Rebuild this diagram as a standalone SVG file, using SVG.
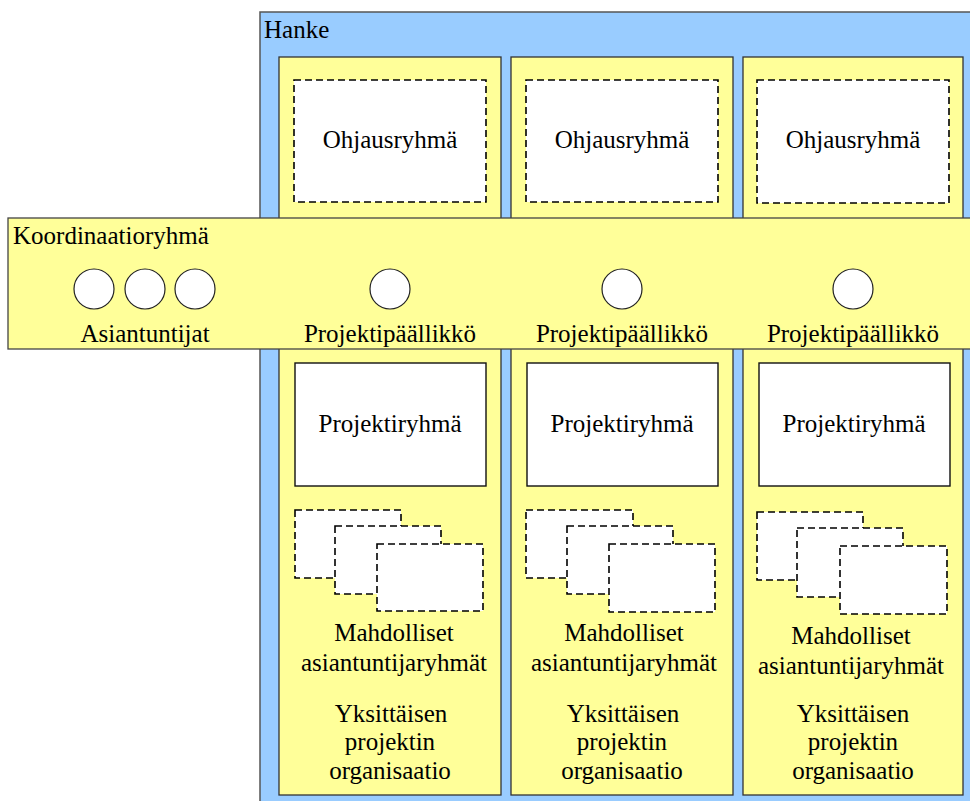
<svg xmlns="http://www.w3.org/2000/svg" width="970" height="801" viewBox="0 0 970 801">
  <style>
    .hanke { fill: #99CCFF; stroke: #555; stroke-width: 1.5; }
    .col { fill: #FFFF99; stroke: #333; stroke-width: 1.3; }
    .band { fill: #FFFF99; stroke: #444; stroke-width: 1.3; }
    .dash { fill: #fff; stroke: #000; stroke-width: 1.6; stroke-dasharray: 7 4; }
    .solid { fill: #fff; stroke: #111; stroke-width: 1.4; }
    .person { fill: #fff; stroke: #222; stroke-width: 1.2; }
    text { font-family: "Liberation Serif", "Times New Roman", serif; font-size: 25px; fill: #000; }
    .c { text-anchor: middle; }
  </style>

  <!-- Hanke container -->
  <g id="hanke">
    <rect class="hanke" x="260" y="12" width="730" height="800"/>
    <text x="264" y="38">Hanke</text>
  </g>

  <!-- project columns -->
  <g id="project-1">
    <rect class="col" x="279" y="57" width="222" height="738"/>
    <g id="ohjausryhma-1">
      <rect class="dash" x="294" y="80" width="192" height="122"/>
      <text class="c" x="390" y="148">Ohjausryhmä</text>
    </g>
  </g>
  <g id="project-2">
    <rect class="col" x="511" y="57" width="222" height="738"/>
    <g id="ohjausryhma-2">
      <rect class="dash" x="526" y="80" width="192" height="122"/>
      <text class="c" x="622" y="148">Ohjausryhmä</text>
    </g>
  </g>
  <g id="project-3">
    <rect class="col" x="743" y="57" width="220" height="738"/>
    <g id="ohjausryhma-3">
      <rect class="dash" x="757" y="80" width="192" height="123"/>
      <text class="c" x="853" y="148">Ohjausryhmä</text>
    </g>
  </g>

  <!-- coordination group band -->
  <g id="koordinaatioryhma">
    <rect class="band" x="8" y="218" width="980" height="131"/>
    <text x="13" y="244">Koordinaatioryhmä</text>
    <g id="asiantuntijat">
      <circle class="person" cx="94" cy="289" r="20"/>
      <circle class="person" cx="145" cy="289" r="20"/>
      <circle class="person" cx="195" cy="289" r="20"/>
      <text class="c" x="145" y="342">Asiantuntijat</text>
    </g>
    <g id="projektipaallikko-1">
      <circle class="person" cx="390" cy="289" r="20"/>
      <text class="c" x="390" y="342">Projektipäällikkö</text>
    </g>
    <g id="projektipaallikko-2">
      <circle class="person" cx="622" cy="289" r="20"/>
      <text class="c" x="622" y="342">Projektipäällikkö</text>
    </g>
    <g id="projektipaallikko-3">
      <circle class="person" cx="853" cy="289" r="20"/>
      <text class="c" x="853" y="342">Projektipäällikkö</text>
    </g>
  </g>

  <!-- lower part of each project column -->
  <g id="projektiryhma-1">
    <rect class="solid" x="295" y="363" width="191" height="123"/>
    <text class="c" x="390" y="432">Projektiryhmä</text>
  </g>
  <g id="projektiryhma-2">
    <rect class="solid" x="527" y="363" width="191" height="123"/>
    <text class="c" x="622" y="432">Projektiryhmä</text>
  </g>
  <g id="projektiryhma-3">
    <rect class="solid" x="759" y="363" width="191" height="123"/>
    <text class="c" x="854" y="432">Projektiryhmä</text>
  </g>

  <g id="asiantuntijaryhmat-1">
    <rect class="dash" x="295" y="510" width="106" height="68"/>
    <rect class="dash" x="335" y="526" width="106" height="68"/>
    <rect class="dash" x="377" y="544" width="106" height="67"/>
    <text class="c" x="394" y="641">Mahdolliset</text>
    <text class="c" x="394" y="671">asiantuntijaryhmät</text>
  </g>
  <g id="asiantuntijaryhmat-2">
    <rect class="dash" x="526" y="510" width="107" height="68"/>
    <rect class="dash" x="567" y="526" width="106" height="68"/>
    <rect class="dash" x="609" y="544" width="106" height="68"/>
    <text class="c" x="624" y="641">Mahdolliset</text>
    <text class="c" x="624" y="671">asiantuntijaryhmät</text>
  </g>
  <g id="asiantuntijaryhmat-3">
    <rect class="dash" x="757" y="512" width="106" height="68"/>
    <rect class="dash" x="797" y="528" width="106" height="69"/>
    <rect class="dash" x="840" y="546" width="107" height="68"/>
    <text class="c" x="851" y="644">Mahdolliset</text>
    <text class="c" x="851" y="674">asiantuntijaryhmät</text>
  </g>

  <g id="organisaatio-1">
    <text class="c" x="391" y="722">Yksittäisen</text>
    <text class="c" x="390" y="750">projektin</text>
    <text class="c" x="390" y="779">organisaatio</text>
  </g>
  <g id="organisaatio-2">
    <text class="c" x="623" y="722">Yksittäisen</text>
    <text class="c" x="622" y="750">projektin</text>
    <text class="c" x="622" y="779">organisaatio</text>
  </g>
  <g id="organisaatio-3">
    <text class="c" x="853" y="722">Yksittäisen</text>
    <text class="c" x="853" y="750">projektin</text>
    <text class="c" x="853" y="779">organisaatio</text>
  </g>
</svg>
